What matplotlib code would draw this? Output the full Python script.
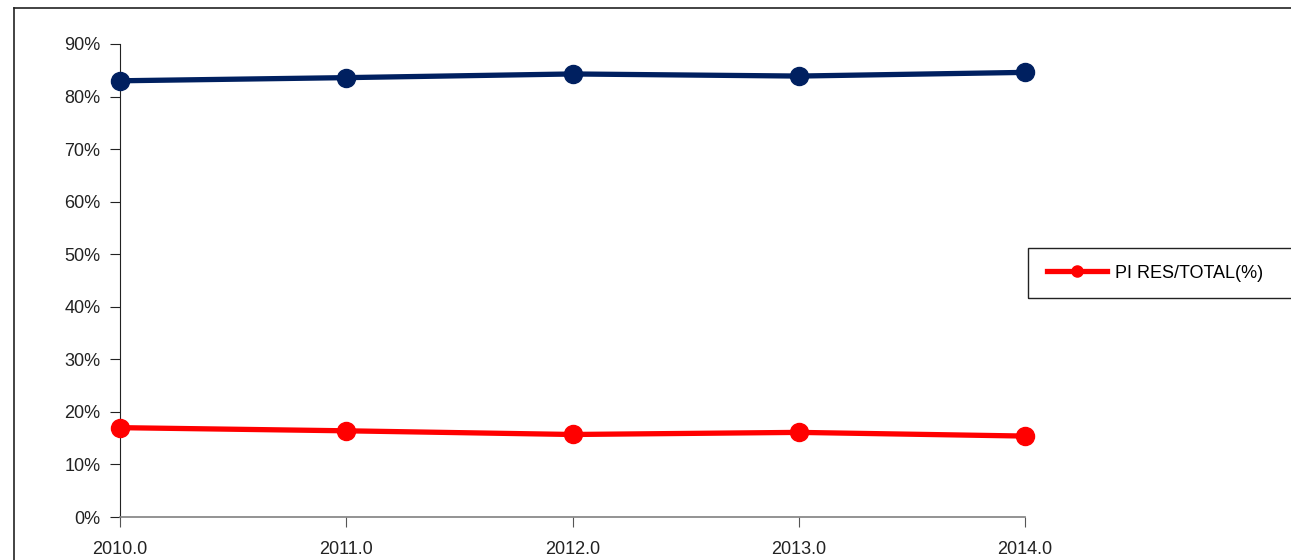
import numpy as np
import matplotlib.pyplot as plt
from matplotlib.lines import Line2D
from matplotlib.patches import Rectangle
from matplotlib.ticker import FuncFormatter

plt.rcParams['font.family'] = ['Liberation Sans', 'DejaVu Sans']

years = [2010, 2011, 2012, 2013, 2014]
pi_total = [83.0, 83.6, 84.3, 83.9, 84.6]   # serie azul (sin leyenda)
pi_res = [17.0, 16.4, 15.7, 16.1, 15.4]     # PI RES/TOTAL(%)
res_label = 'PI RES/TOTAL(%)'

W, H = 1291, 560
fig = plt.figure(figsize=(W / 100, H / 100), dpi=100)
ax = fig.add_axes([120 / W, 1 - 517 / H, (1025 - 120) / W, (517 - 44) / H])

ax.plot(years, pi_total, '-o', color='#002060', lw=3.8, ms=13, clip_on=False, zorder=3)
ax.plot(years, pi_res, '-o', color='#ff0000', lw=3.8, ms=13, clip_on=False, zorder=3)

ax.set_xlim(2010, 2014)
ax.set_ylim(0, 90)
ax.set_xticks(years)
ax.set_yticks(np.arange(0, 91, 10))
ax.xaxis.set_major_formatter(FuncFormatter(lambda v, p: f'{v:.1f}'))
ax.yaxis.set_major_formatter(FuncFormatter(lambda v, p: f'{v:.0f}%'))
ax.tick_params(axis='both', direction='out', length=7, width=0.8, labelsize=13,
               colors='#222222')
ax.tick_params(axis='x', pad=10, color='#555555')
ax.tick_params(axis='y', pad=7)

for s in ['top', 'right']:
    ax.spines[s].set_visible(False)
ax.spines['left'].set_color('#222222')
ax.spines['left'].set_linewidth(0.8)
ax.spines['bottom'].set_color('#808080')
ax.spines['bottom'].set_linewidth(1.2)

# marco exterior (cortado a la derecha y abajo)
top_y = 1 - 8 / H
left_x = 14 / W
fig.add_artist(Line2D([left_x, 1.0], [top_y, top_y], transform=fig.transFigure,
                      color='#222222', lw=1.2))
fig.add_artist(Line2D([left_x, left_x], [0, top_y], transform=fig.transFigure,
                      color='#222222', lw=1.2))

# caja de leyenda
fig.add_artist(Rectangle((1028 / W, 1 - 298 / H), 0.3, 50 / H, transform=fig.transFigure,
                         fill=False, edgecolor='#222222', lw=1.0))
h = Line2D([], [], color='#ff0000', lw=3.8, marker='o', ms=8)
fig.legend([h], [res_label], loc='center left', bbox_to_anchor=(1040 / W, 1 - 273 / H),
           frameon=False, fontsize=13, handlelength=3.3, handletextpad=0.45,
           borderaxespad=0)

fig.savefig('out.png', dpi=100)
